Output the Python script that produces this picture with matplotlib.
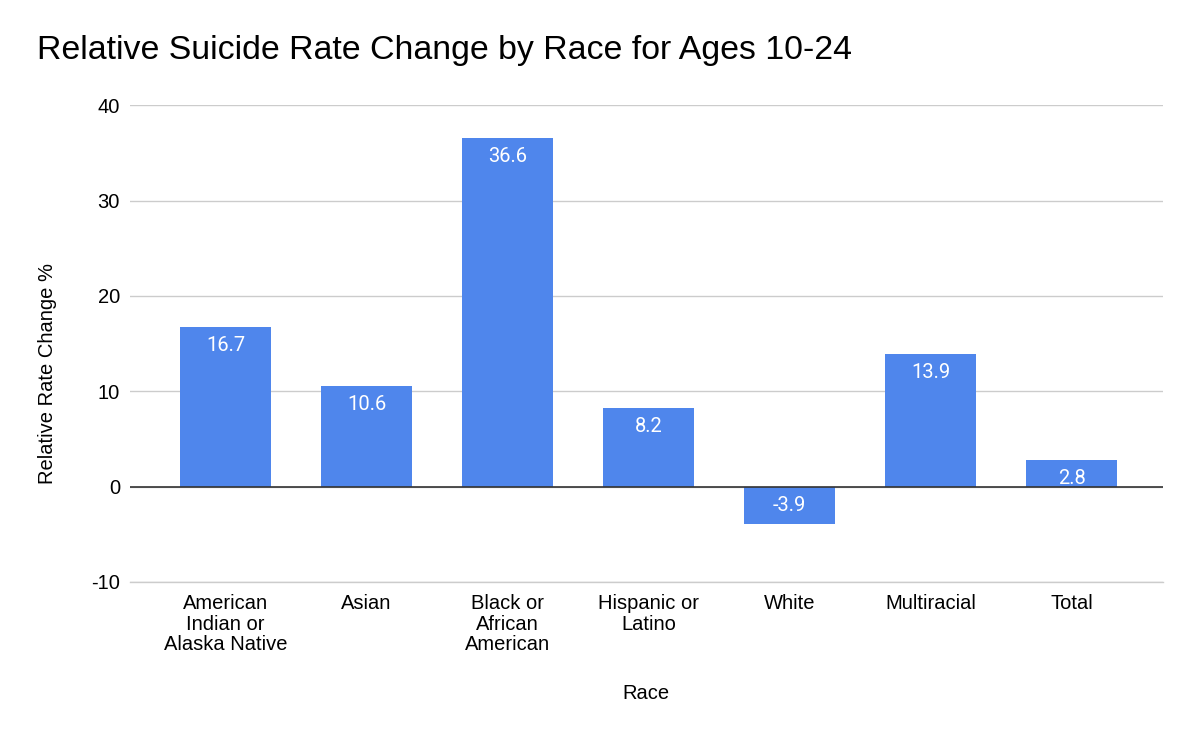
import matplotlib.pyplot as plt

races = ["American\nIndian or\nAlaska Native", "Asian", "Black or\nAfrican\nAmerican",
         "Hispanic or\nLatino", "White", "Multiracial", "Total"]
rate_change = [16.7, 10.6, 36.6, 8.2, -3.9, 13.9, 2.8]
y_ticks = [-10, 0, 10, 20, 30, 40]

plt.rcParams['font.family'] = ['Liberation Sans', 'DejaVu Sans']
plt.rcParams['axes.unicode_minus'] = False

fig = plt.figure(figsize=(12, 7.41), dpi=100)
ax = fig.add_axes([0.108, 0.2146, 0.861, 0.6434])

x = range(len(races))
bars = ax.bar(x, rate_change, width=0.645, color='#4F86EC', zorder=3)

for b, v in zip(bars, rate_change):
    top = b.get_height() if v >= 0 else 0
    ax.text(b.get_x() + b.get_width() / 2, top - 0.95, f"{v}", ha='center', va='top',
            color='white', fontsize=14.5, family=['Roboto', 'DejaVu Sans'], zorder=4)

ax.set_xlim(-0.68, 6.645)
ax.set_ylim(-10, 40)
ax.set_yticks(y_ticks)
ax.set_xticks(list(x))
ax.set_xticklabels(races, fontsize=14.5, va='top', linespacing=1.1)
ax.tick_params(axis='y', labelsize=14.5, length=0, pad=7)
ax.tick_params(axis='x', length=0, pad=9)

ax.grid(axis='y', color='#cccccc', linewidth=1, zorder=0)
# bottom gridline sits on the axes edge, draw it unclipped
ax.axhline(-10, color='#cccccc', linewidth=1, zorder=0, clip_on=False)
ax.axhline(0, color='#333333', linewidth=1.2, zorder=3)
for s in ax.spines.values():
    s.set_visible(False)

ax.set_ylabel("Relative Rate Change %", fontsize=14.5)
ax.yaxis.set_label_coords(-0.0705, 0.438)
ax.set_xlabel("Race", fontsize=14.5, labelpad=21)
fig.text(0.031, 0.932, "Relative Suicide Rate Change by Race for Ages 10-24",
         fontsize=24.4, va='center', ha='left')

fig.savefig("out.png", dpi=100)
